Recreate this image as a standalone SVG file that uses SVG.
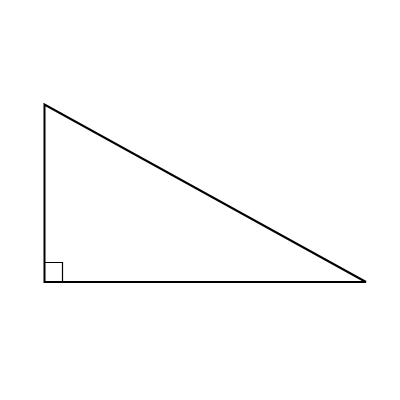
<svg xmlns="http://www.w3.org/2000/svg" width="400" height="400" viewBox="0 0 400 400">
<style>
.tri{fill:none;stroke:#000;stroke-width:2;stroke-linejoin:miter}
.ra{fill:none;stroke:#000;stroke-width:1.2}
</style>
<rect width="400" height="400" fill="#fff"/>
<g id="triangle">
<polygon class="tri" points="44.5,104.5 44.5,282 366,282"/>
</g>
<g id="right-angle">
<polyline class="ra" points="44.5,262.5 62.5,262.5 62.5,282"/>
</g>
</svg>
